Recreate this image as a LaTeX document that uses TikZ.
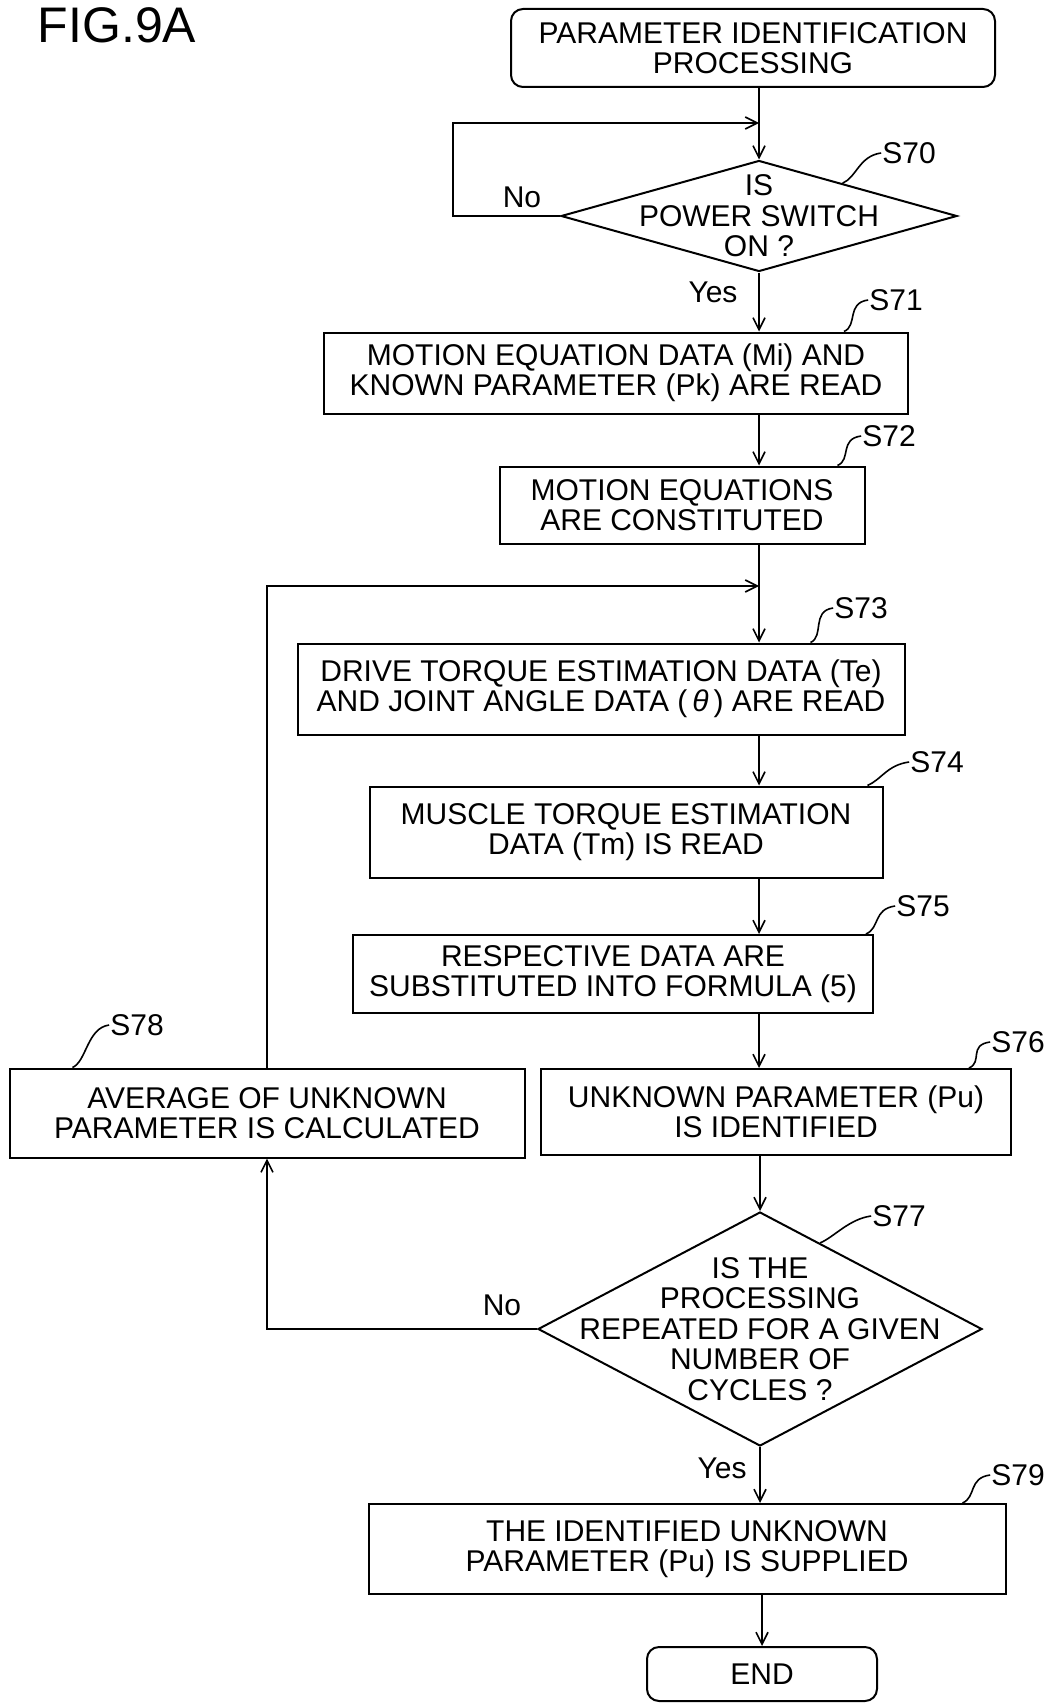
\documentclass[tikz,border=0pt]{standalone}
\usepackage{fontspec}
\setmainfont{Liberation Sans}
\usetikzlibrary{shapes.geometric,arrows.meta,calc}
\tikzstyle{stepbox}=[draw, line width=2pt, rectangle, align=center, inner sep=0pt]
\tikzstyle{terminal}=[stepbox, rounded corners=12pt]
\tikzstyle{decision}=[draw, line width=2pt, diamond, inner sep=0pt]
\tikzstyle{flow}=[draw, line width=1.6pt, -{Straight Barb[length=12pt,width=12pt]}]
\tikzstyle{leader}=[draw, line width=1.6pt]
\tikzstyle{steplabel}=[inner sep=1pt, font=\fontsize{30}{32}\selectfont]
\tikzstyle{answer}=[inner sep=0pt]

\begin{document}
\begin{tikzpicture}[x=1pt, y=-1pt, font=\fontsize{30}{30.4}\selectfont]
		\useasboundingbox (0,0) rectangle (1047,1704);
		\node[inner sep=0pt, font=\fontsize{50}{52}\selectfont] (fig) at (117,25) {FIG.9A};
		
		% First we draw the steps
		\node[terminal, minimum width=484pt, minimum height=78pt] (start) at (753,48) {PARAMETER IDENTIFICATION\\PROCESSING};
		\node[decision, minimum width=396pt, minimum height=111pt] (d70) at (759,216) {};
		\node[align=center] (t70) at (d70) {IS\\POWER SWITCH\\ON ?};
		\node[stepbox, minimum width=584pt, minimum height=81pt] (s71) at (616,373) {MOTION EQUATION DATA (Mi) AND\\KNOWN PARAMETER (Pk) ARE READ};
		\node[stepbox, minimum width=365pt, minimum height=77pt] (s72) at (682,505) {MOTION EQUATIONS\\ARE CONSTITUTED};
		\node[stepbox, minimum width=607pt, minimum height=91pt] (s73) at (601,689) {DRIVE TORQUE ESTIMATION DATA (Te)\\AND JOINT ANGLE DATA (\,\textit{θ}\,) ARE READ};
		\node[stepbox, minimum width=513pt, minimum height=91pt] (s74) at (626,832) {MUSCLE TORQUE ESTIMATION\\DATA (Tm) IS READ};
		\node[stepbox, minimum width=520pt, minimum height=78pt] (s75) at (613,974) {RESPECTIVE DATA ARE\\SUBSTITUTED INTO FORMULA (5)};
		\node[stepbox, minimum width=470pt, minimum height=86pt] (s76) at (776,1112) {UNKNOWN PARAMETER (Pu)\\IS IDENTIFIED};
		\node[stepbox, minimum width=515pt, minimum height=89pt] (s78) at (267,1113) {AVERAGE OF UNKNOWN\\PARAMETER IS CALCULATED};
		\node[decision, minimum width=444pt, minimum height=234pt] (d77) at (760,1329) {};
		\node[align=center] (t77) at (d77) {IS THE\\PROCESSING\\REPEATED FOR A GIVEN\\NUMBER OF\\CYCLES ?};
		\node[stepbox, minimum width=637pt, minimum height=90pt] (s79) at (687,1549) {THE IDENTIFIED UNKNOWN\\PARAMETER (Pu) IS SUPPLIED};
		\node[terminal, minimum width=230pt, minimum height=54pt] (end) at (762,1674) {END};
		
		% Yes / No
		\node[answer] (no70) at (522,197) {No};
		\node[answer] (yes70) at (713,292) {Yes};
		\node[answer] (no77) at (502,1305) {No};
		\node[answer] (yes77) at (722,1468) {Yes};
		
		% Connect steps with arrows
		\coordinate (col) at (759,0);
		\coordinate (k70) at (453,123);
		\coordinate (j70) at (759,123);
		\coordinate (j73) at (759,586);
		\path[flow] (start.south -| col) -- (d70.north);
		\path[flow] (d70.west) -| (k70) -- (j70);
		\foreach \source/\dest in {d70/s71, s71/s72, s72/s73, s73/s74, s74/s75, s75/s76}
		\path[flow] (\source.south -| col) -- (\dest.north -| col);
		\path[flow] (s76.south -| d77) -- (d77.north);
		\path[flow] (d77.west) -| (s78.south);
		\path[flow] (s78.north) |- (j73);
		\path[flow] (d77.south) -- (d77.south |- s79.north);
		\path[flow] (s79.south -| end) -- (end.north);
		
		% Step numbers
		\foreach \pos/\label/\name in {
			{(909,153)/l70/S70}, {(896,300)/l71/S71}, {(889,436)/l72/S72},
			{(861,608)/l73/S73}, {(937,762)/l74/S74}, {(923,906)/l75/S75},
			{(1018,1042)/l76/S76}, {(899,1216)/l77/S77}, {(137,1025)/l78/S78},
			{(1018,1475)/l79/S79}}
		\node[steplabel] (\label) at \pos {\name};
		
		\coordinate (p70) at ($(d70.north)!0.42!(d70.east)$);
		\coordinate (p71) at ($(s71.north east)+(-65,0)$);
		\coordinate (p72) at ($(s72.north east)+(-28,0)$);
		\coordinate (p73) at ($(s73.north east)+(-95,0)$);
		\coordinate (p74) at ($(s74.north east)+(-16,0)$);
		\coordinate (p75) at ($(s75.north east)+(-8,0)$);
		\coordinate (p76) at ($(s76.north east)+(-43,0)$);
		\coordinate (p77) at ($(d77.north)!0.27!(d77.east)$);
		\coordinate (p78) at ($(s78.north west)+(64,0)$);
		\coordinate (p79) at ($(s79.north east)+(-44,0)$);
		\foreach \n in {70,71,72,73,74,75,76,77,78,79}
		\path[leader] (p\n) .. controls +(14,-6) and +(-22,3) .. (l\n.west);
\end{tikzpicture}
\end{document}
